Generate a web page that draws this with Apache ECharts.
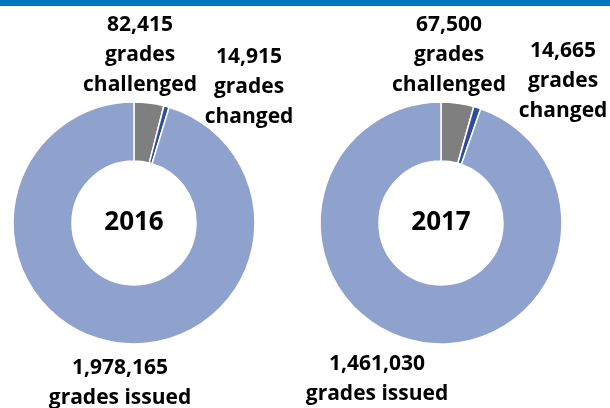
<!DOCTYPE html>
<html>
<head>
<meta charset="utf-8">
<script src="https://cdn.jsdelivr.net/npm/echarts@6/dist/echarts.min.js"></script>
<style>
  html, body { margin: 0; padding: 0; background: #fff; }
  #bar { height: 6px; background: #0077bc; }
  #chart { width: 610px; height: 408px; position: absolute; left: 0; top: 0; }
</style>
</head>
<body>
<div id="chart"></div>
<div id="bar" style="position:absolute;left:0;top:0;width:610px;"></div>
<script>
// data
const years = ['2016', '2017'];
const challenged = [82415, 67500];
const changed = [14915, 14665];
const issued = [1978165, 1461030];

const colors = ['#7f7f7f', '#2e4d9e', '#8fa2ce'];
const centers = [[134, 223], [441, 223]];
const font = '"Open Sans", sans-serif';

// label anchor points (center x, first line y)
const challengedPos = [[140, 25], [449, 25]];
const changedPos = [[249, 57], [563, 51]];
const issuedPos = [[120, 368], [377, 364]];

const fmt = v => v.toLocaleString('en-US');

const chart = echarts.init(document.getElementById('chart'));

const series = years.map((y, i) => ({
  type: 'pie',
  center: centers[i],
  radius: [62, 121],
  startAngle: 90,
  clockwise: true,
  silent: true,
  label: { show: false },
  labelLine: { show: false },
  itemStyle: { borderColor: '#fff', borderWidth: 1.5 },
  data: [
    { name: 'challenged', value: challenged[i], itemStyle: { color: colors[0] } },
    { name: 'changed', value: changed[i], itemStyle: { color: colors[1] } },
    { name: 'issued', value: issued[i], itemStyle: { color: colors[2] } }
  ]
}));

function textBlock(pos, lines, lh) {
  return lines.map((t, k) => ({
    type: 'text',
    x: pos[0],
    y: pos[1] + k * lh,
    style: {
      text: t,
      fill: '#000',
      font: 'bold 21px ' + font,
      textAlign: 'center',
      textVerticalAlign: 'middle'
    }
  }));
}

let graphics = [];
years.forEach((y, i) => {
  graphics = graphics.concat(
    textBlock(challengedPos[i], [fmt(challenged[i]), 'grades', 'challenged'], 30),
    textBlock(changedPos[i], [fmt(changed[i]), 'grades', 'changed'], 30),
    textBlock(issuedPos[i], [fmt(issued[i]), 'grades issued'], 30)
  );
  graphics.push({
    type: 'text',
    x: centers[i][0],
    y: centers[i][1],
    style: {
      text: y,
      fill: '#000',
      font: 'bold 26px ' + font,
      textAlign: 'center',
      textVerticalAlign: 'middle'
    }
  });
});

chart.setOption({
  animation: false,
  series: series,
  graphic: graphics
});
</script>
</body>
</html>
